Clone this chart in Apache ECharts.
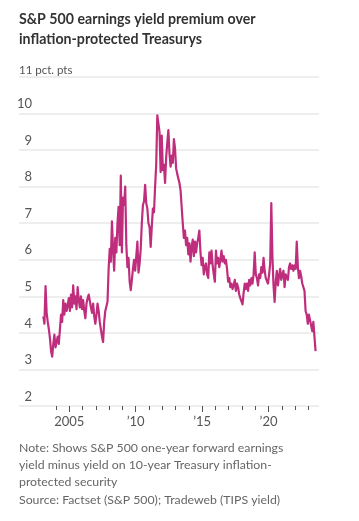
<!DOCTYPE html>
<html>
<head>
<meta charset="utf-8">
<script src="https://cdn.jsdelivr.net/npm/echarts@6/dist/echarts.min.js"></script>
<style>
html,body{margin:0;padding:0;background:#fff;}
#chart{width:359px;height:521px;}
</style>
</head>
<body>
<div id="chart"></div>
<script>
// Monthly readings, Jan 2003 .. Jul 2023 (percentage points)
const startYear = 2003;
const values = [
  4.45, 4.25, 5.28, 4.55, 4.3, 4.1, 3.85, 3.5, 3.35, 3.7, 3.95, 3.6,      // 2003
  3.55, 3.9, 3.7, 4.1, 4.5, 4.3, 4.9, 4.5, 4.8, 4.6, 4.75, 4.95,          // 2004
  4.6, 5.05, 4.7, 5.3, 4.8, 5.0, 4.65, 5.25, 4.9, 4.7, 5.0, 4.65,         // 2005
  4.9, 4.6, 4.4, 4.8, 4.95, 5.05, 5.08, 4.7, 4.55, 4.8, 4.45, 4.25,       // 2006
  4.5, 4.8, 4.6, 4.3, 4.1, 3.9, 3.75, 4.3, 4.6, 4.6, 4.85, 5.75,          // 2007
  6.3, 5.95, 7.05, 6.3, 5.7, 6.6, 6.2, 7.0, 7.45, 6.4, 8.3, 6.2,          // 2008
  7.7, 7.5, 8.0, 6.4, 5.8, 6.05, 5.4, 5.17, 5.45, 5.75, 6.0, 5.7,         // 2009
  6.1, 6.5, 5.65, 5.9, 6.3, 7.0, 7.5, 7.6, 8.05, 7.55, 7.4, 7.0,          // 2010
  6.9, 6.35, 6.9, 7.4, 7.3, 8.0, 8.6, 9.95, 10.0, 9.5, 8.4, 9.4,          // 2011
  8.45, 8.6, 8.1, 8.8, 9.2, 9.55, 8.9, 8.55, 8.85, 8.65, 9.3, 9.05,       // 2012
  8.5, 8.35, 8.4, 8.1, 7.9, 7.45, 7.0, 6.6, 6.8, 6.4, 6.6, 6.15,          // 2013
  6.45, 5.95, 6.35, 6.55, 6.1, 6.5, 6.2, 6.45, 6.6, 6.8, 6.2, 5.85,       // 2014
  6.05, 5.6, 5.8, 5.9, 5.6, 5.5, 6.2, 5.9, 6.25, 5.85, 5.6, 5.4,          // 2015
  6.25, 5.9, 6.05, 5.8, 6.0, 6.25, 5.95, 6.1, 5.9, 6.0, 5.75, 5.4,        // 2016
  5.5, 5.25, 5.35, 5.2, 5.3, 5.45, 5.15, 5.35, 5.25, 5.05, 4.95, 5.0,     // 2017
  4.78, 5.1, 5.35, 5.2, 5.35, 5.15, 5.45, 5.3, 5.5, 5.35, 5.6, 6.2,       // 2018
  5.6, 5.5, 5.3, 5.6, 5.5, 5.8, 5.65, 6.05, 5.7, 5.5, 5.45, 5.35,         // 2019
  5.6, 5.9, 7.55, 6.1, 5.3, 4.85, 5.4, 5.7, 5.3, 5.55, 5.75, 5.45,        // 2020
  5.6, 5.7, 5.25, 5.6, 5.65, 5.45, 5.8, 5.9, 5.75, 5.85, 5.7, 5.85,       // 2021
  5.75, 6.5, 5.8, 5.5, 5.7, 5.55, 5.35, 5.4, 5.15, 4.6, 4.5, 4.25,        // 2022
  4.5, 4.45, 4.2, 4.05, 4.3, 3.9, 3.5                                     // 2023
];
const tickYears = [2004,2005,2006,2007,2008,2009,2010,2011,2012,2013,2014,2015,2016,2017,2018,2019,2020,2021,2022,2023];
const labelYears = [2005, 2010, 2015, 2020];

const titleLines = ['S&P 500 earnings yield premium over', 'inflation-protected Treasurys'];
const unitLabel = '11 pct. pts';
const noteLines = [
  'Note: Shows S&P 500 one-year forward earnings',
  'yield minus yield on 10-year Treasury inflation-',
  'protected security',
  'Source: Factset (S&P 500); Tradeweb (TIPS yield)'
];

// x position = decimal year at mid-month
const seriesData = values.map((v, i) => [startYear + (i + 0.5) / 12, v]);

const FONT = 'Lato, "Noto Sans", sans-serif';
const chart = echarts.init(document.getElementById('chart'), null, {renderer: 'canvas'});
const xMin = 2001.21;
const xMax = 2023.80;

chart.setOption({
  animation: false,
  backgroundColor: '#fff',
  grid: {left: 19, right: 40, top: 77, bottom: 115, containLabel: false},
  xAxis: [{
    type: 'value', min: xMin, max: xMax,
    axisLine: {show: false},
    splitLine: {show: false},
    axisTick: {show: true, customValues: tickYears, length: 4, lineStyle: {color: '#555', width: 1}},
    axisLabel: {
      customValues: labelYears,
      margin: 9,
      color: '#555', fontFamily: FONT, fontSize: 13,
      formatter: function (val) {
        const y = Math.round(val);
        return y === 2005 ? '2005' : '\u2019' + String(y).slice(2);
      }
    }
  }, {
    type: 'value', min: xMin, max: xMax, position: 'bottom',
    axisLine: {show: false}, splitLine: {show: false},
    axisTick: {show: true, customValues: labelYears, length: 6, lineStyle: {color: '#555', width: 1}},
    axisLabel: {show: false}
  }],
  yAxis: {
    type: 'value', min: 2, max: 11, interval: 1,
    axisLine: {show: false}, axisTick: {show: false},
    splitLine: {show: true, lineStyle: {color: '#eeeeee', width: 2}},
    axisLabel: {
      inside: true, align: 'right', verticalAlign: 'bottom', margin: 13,
      padding: [0, 0, 3, 0],
      color: '#555', fontFamily: FONT, fontSize: 13,
      formatter: v => (v === 11 ? '' : String(v))
    }
  },
  series: [{
    type: 'line', data: seriesData, showSymbol: false, symbol: 'none',
    lineStyle: {color: '#bf2e7c', width: 2.2, join: 'round'},
    xAxisIndex: 0, yAxisIndex: 0, z: 5
  }],
  graphic: [
    {type: 'text', left: 19, top: 9, style: {text: titleLines.join('\n'), font: 'bold 14.2px ' + FONT, fill: '#333', lineHeight: 20}},
    {type: 'text', left: 19, top: 63, style: {text: unitLabel, font: '11.5px ' + FONT, fill: '#555', lineHeight: 14}},
    {type: 'text', left: 19, top: 439, style: {text: noteLines.join('\n'), font: '12.3px ' + FONT, fill: '#666', lineHeight: 17.3}}
  ]
});
</script>
</body>
</html>
